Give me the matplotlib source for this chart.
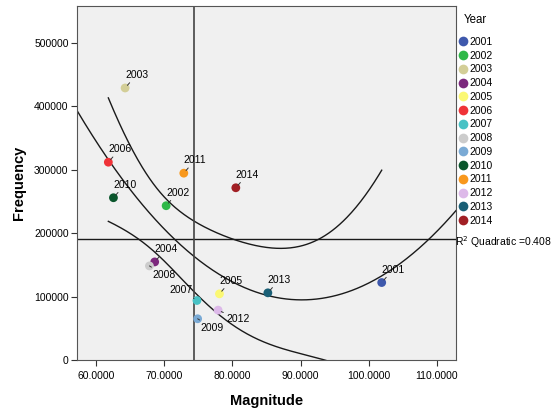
import numpy as np
import matplotlib
matplotlib.use('Agg')
import matplotlib.pyplot as plt
from matplotlib.lines import Line2D

plt.rcParams['font.family'] = ['Liberation Sans', 'DejaVu Sans']

# data
years = [2001, 2002, 2003, 2004, 2005, 2006, 2007,
         2008, 2009, 2010, 2011, 2012, 2013, 2014]
magnitude = [101.9, 70.28, 64.26, 68.6, 78.1, 61.8, 74.8,
             67.83, 74.9, 62.55, 72.87, 77.9, 85.2, 80.5]
frequency = [122100, 243200, 428800, 154600, 104300, 311800, 93800,
             148300, 65000, 255800, 294500, 78600, 105900, 271500]
year_colors = ['#3E58AC', '#2EB848', '#D3CE97', '#7C287D', '#FBF873', '#EF3338', '#48C2C5',
               '#CCCCCC', '#7AAAD5', '#0A562C', '#F8981D', '#DDB9E9', '#1A5F76', '#A11F24']
r2_label = 'R$^2$ Quadratic =0.408'

x = np.array(magnitude)
y = np.array(frequency)

fig = plt.figure(figsize=(5.57, 4.12), dpi=100)
ax = fig.add_axes([0.1382, 0.1262, 0.6805, 0.8592])
ax.set_facecolor('#F0F0F0')

xlim = (57.2, 112.8)
ylim = (0, 558000)

# quadratic fit + confidence band of the mean
coef = np.polyfit(x, y, 2)
xs = np.linspace(xlim[0], xlim[1], 300)
ax.plot(xs, np.polyval(coef, xs), color='#1a1a1a', lw=1.0, zorder=2)

X = np.column_stack([np.ones_like(x), x, x ** 2])
resid = y - X @ coef[::-1]
s2 = resid @ resid / (len(x) - 3)
XtX_inv = np.linalg.inv(X.T @ X)
xb = np.linspace(x.min(), x.max(), 300)
Xb = np.column_stack([np.ones_like(xb), xb, xb ** 2])
se = np.sqrt(s2 * np.einsum('ij,jk,ik->i', Xb, XtX_inv, Xb))
t = 1.86  # band width factor (matches the drawn band)
fit_b = np.polyval(coef, xb)
ax.plot(xb, fit_b + t * se, color='#1a1a1a', lw=1.0, zorder=2)
ax.plot(xb, fit_b - t * se, color='#1a1a1a', lw=1.0, zorder=2)

# mean reference lines
ax.axhline(y.mean(), color='#1a1a1a', lw=1.0, zorder=2)
ax.axvline(x.mean(), color='#444444', lw=1.2, zorder=2)
ax.text(0.998, (y.mean() - ylim[0]) / (ylim[1] - ylim[0]) - 0.02, r2_label,
        transform=ax.transAxes, ha='left', va='baseline', fontsize=7.5)

ax.scatter(x, y, c=year_colors, s=40, zorder=3, linewidths=0)

# point labels: default up-right, a few placed elsewhere
label_pos = {2008: (3, -4, 'left', 'top'), 2007: (-4, 5, 'right', 'bottom'),
             2012: (8, -4, 'left', 'top'), 2009: (3, -4, 'left', 'top')}
for yr, xi, yi in zip(years, x, y):
    dx, dy, ha, va = label_pos.get(yr, (0, 8, 'left', 'bottom'))
    rel = (0.3, 0.0) if va == 'bottom' and ha == 'left' else (0.5, 0.5)
    ax.annotate(str(yr), (xi, yi), xytext=(dx, dy), textcoords='offset pixels',
                ha=ha, va=va, fontsize=7.5, zorder=4,
                arrowprops=dict(arrowstyle='-', lw=0.7, color='#333333',
                                shrinkA=0, shrinkB=2.5, relpos=rel))

ax.set_xlim(*xlim)
ax.set_ylim(*ylim)
ax.set_xticks([60, 70, 80, 90, 100, 110])
ax.set_xticklabels(['%.4f' % v for v in [60, 70, 80, 90, 100, 110]])
ax.set_yticks([0, 100000, 200000, 300000, 400000, 500000])
ax.set_yticklabels(['0', '100000', '200000', '300000', '400000', '500000'])
ax.tick_params(labelsize=7.5, length=4, width=0.8, color='#333333', pad=2)
ax.tick_params(axis='x', pad=4)
for sp in ax.spines.values():
    sp.set_color('#555555')
    sp.set_linewidth(0.8)

ax.set_xlabel('Magnitude', fontsize=10.5, fontweight='bold', labelpad=9)
ax.set_ylabel('Frequency', fontsize=10.5, fontweight='bold', labelpad=6)

fig.text(464 / 557, 1 - 20 / 412, 'Year', fontsize=8.3, ha='left', va='center')
handles = [Line2D([], [], marker='o', ls='', markersize=7, markerfacecolor=c,
                  markeredgewidth=0) for c in year_colors]
fig.legend(handles, [str(v) for v in years], loc='upper left',
           bbox_to_anchor=(0.81, 0.928), frameon=False, fontsize=7.5,
           handlelength=0.8, handletextpad=0.3, labelspacing=0.36, borderpad=0.2)

fig.savefig('out.png', dpi=100)
